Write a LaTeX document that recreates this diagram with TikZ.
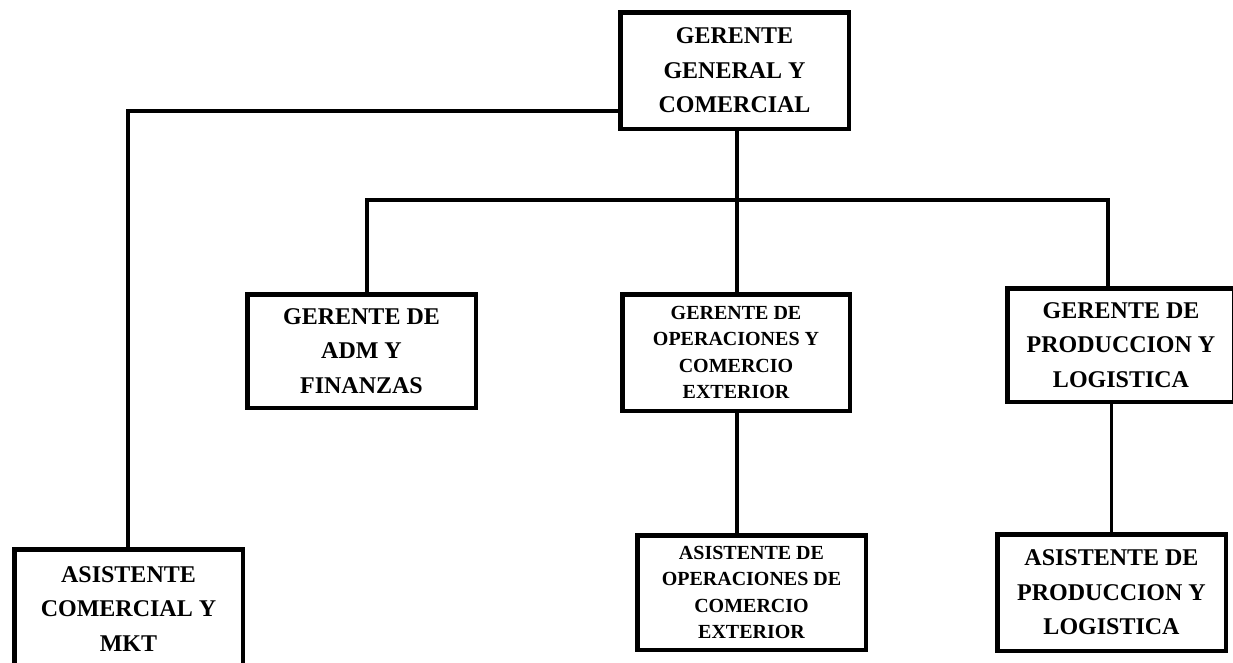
\documentclass[tikz,border=0pt]{standalone}
\usepackage{fontspec}
\setmainfont{Liberation Serif}
\begin{document}
\begin{tikzpicture}[x=1pt,y=-1pt,
  box/.style={draw, line width=4.5pt, fill=white, align=center, inner sep=0pt,
    font=\fontsize{24}{34.5}\selectfont\bfseries, minimum width=228.5pt, minimum height=114pt},
  smallbox/.style={box, font=\fontsize{20}{26.5}\selectfont\bfseries},
  link/.style={line width=4.5pt},
  thinlink/.style={line width=3pt}]
\useasboundingbox (0,0) rectangle (1233,662);
\clip (0,0) rectangle (1233,662);
\fill[white] (0,0) rectangle (1233,662);

\node[box, minimum height=116.5pt] (top) at (734.5,70.5) {GERENTE\\GENERAL Y\\COMERCIAL};
\node[box, minimum height=119pt] (asiscom) at (128.5,609) {ASISTENTE\\COMERCIAL Y\\MKT};
\node[box, minimum height=113.5pt] (admin) at (361.5,351) {GERENTE DE\\ADM Y\\FINANZAS};
\node[smallbox, minimum width=227.5pt, minimum height=116.5pt] (op) at (736,352.5) {GERENTE DE\\OPERACIONES Y\\COMERCIO\\EXTERIOR};
\node[box, minimum width=227pt, minimum height=113.5pt] (prod) at (1121,345) {GERENTE DE\\PRODUCCION Y\\LOGISTICA};
\node[smallbox, minimum height=114.5pt] (asisop) at (751.5,592.5) {ASISTENTE DE\\OPERACIONES DE\\COMERCIO\\EXTERIOR};
\node[box, minimum height=116.5pt] (asisprod) at (1111.5,592.5) {ASISTENTE DE\\PRODUCCION Y\\LOGISTICA};

\coordinate (c1) at (128,111);
\coordinate (bl) at (367,200);
\coordinate (bm) at (737,200);
\coordinate (br) at (1108,200);

\draw[link] (top.west |- c1) -- (c1) -- (asiscom.north -| c1);
\draw[link] (top.south -| bm) -- (op.north -| bm);
\draw[link] (admin.north -| bl) -- (bl) -- (br) -- (prod.north -| br);
\draw[link] (op.south -| bm) -- (asisop.north -| bm);
\draw[thinlink] (prod.south -| asisprod.north) -- (asisprod.north);
\end{tikzpicture}
\end{document}
